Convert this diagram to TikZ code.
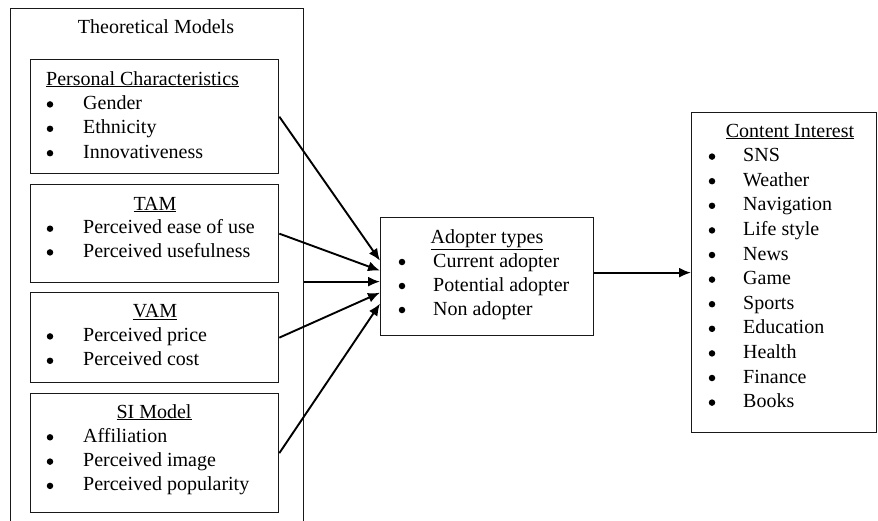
\documentclass[tikz,border=0pt]{standalone}
\usepackage{fontspec}
\setmainfont{Liberation Serif}
\usetikzlibrary{arrows.meta,positioning}

\tikzset{
  box/.style={draw=black!90, line width=1.3pt, anchor=north west, inner sep=0pt},
  txt/.style={anchor=west, inner sep=0pt, text height=14pt, text depth=4pt, font=\fontsize{20}{24}\selectfont},
  bul/.style={circle, fill=black, inner sep=0pt, minimum size=6.5pt},
  head/.style={txt, anchor=center},
  link/.style={-{Latex[length=12pt,width=10pt]}, line width=1.9pt},
}

\begin{document}
\begin{tikzpicture}[x=1pt, y=-1pt]
    \useasboundingbox (0,0) rectangle (878,520);
    \clip (0,0) rectangle (878,520);

    % Outer frame
    \node[box, minimum width=293pt, minimum height=540pt] (theory) at (10,8) {};
    \node[head] (theory-h) at (156,28) {Theoretical Models};

    % Model boxes
    \node[box, minimum width=248pt, minimum height=114pt] (pc) at (30,59) {};
    \node[box, minimum width=248pt, minimum height=98pt] (tam) at (30,184) {};
    \node[box, minimum width=248pt, minimum height=90pt] (vam) at (30,292) {};
    \node[box, minimum width=248pt, minimum height=119pt] (si) at (30,393) {};

    % Personal characteristics
    \node[txt] (pc-h) at (46,80) {\underline{Personal Characteristics}};
    \foreach \t [count=\i] in {Gender, Ethnicity, Innovativeness} {
        \node[bul] (pc-b\i) at (50, 80+24.4*\i) {};
        \node[txt] (pc-t\i) at (83, 80+24.4*\i) {\t};
    }

    % TAM
    \node[head] (tam-h) at (155,205) {\underline{TAM}};
    \foreach \t [count=\i] in {Perceived ease of use, Perceived usefulness} {
        \node[bul] (tam-b\i) at (50, 205+23.7*\i) {};
        \node[txt] (tam-t\i) at (83, 205+23.7*\i) {\t};
    }

    % VAM
    \node[head] (vam-h) at (155,312) {\underline{VAM}};
    \foreach \t [count=\i] in {Perceived price, Perceived cost} {
        \node[bul] (vam-b\i) at (50, 312+24.4*\i) {};
        \node[txt] (vam-t\i) at (83, 312+24.4*\i) {\t};
    }

    % SI model
    \node[head] (si-h) at (154,413) {\underline{SI Model}};
    \foreach \t [count=\i] in {Affiliation, Perceived image, Perceived popularity} {
        \node[bul] (si-b\i) at (50, 413+24.3*\i) {};
        \node[txt] (si-t\i) at (83, 413+24.3*\i) {\t};
    }

    % Adopter types
    \node[box, minimum width=213pt, minimum height=118pt] (adopt) at (380,217) {};
    \node[head] (adopt-h) at (487,238) {\underline{Adopter types}};
    \foreach \t [count=\i] in {Current adopter, Potential adopter, Non adopter} {
        \node[bul] (adopt-b\i) at (402, 238+24*\i) {};
        \node[txt] (adopt-t\i) at (433, 238+24*\i) {\t};
    }

    % Content interest
    \node[box, minimum width=185pt, minimum height=320pt] (content) at (691,112) {};
    \node[head] (content-h) at (790,132) {\underline{Content Interest}};
    \foreach \t [count=\i] in {SNS, Weather, Navigation, Life style, News, Game, Sports, Education, Health, Finance, Books} {
        \node[bul] (content-b\i) at (712, 132+24.6*\i) {};
        \node[txt] (content-t\i) at (743, 132+24.6*\i) {\t};
    }

    % Arrows
    \coordinate (tip3) at ([yshift=-5pt]adopt.west);
    \draw[link] (pc.east) -- ([yshift=16pt]adopt.west);
    \draw[link] (tam.east) -- ([yshift=6pt]adopt.west);
    \draw[link] (theory.east |- tip3) -- (tip3);
    \draw[link] (vam.east) -- ([yshift=-16pt]adopt.west);
    \draw[link] (si.east) -- ([yshift=-27pt]adopt.west);
    \draw[link] (adopt.east |- content.west) -- (content.west);
\end{tikzpicture}
\end{document}
